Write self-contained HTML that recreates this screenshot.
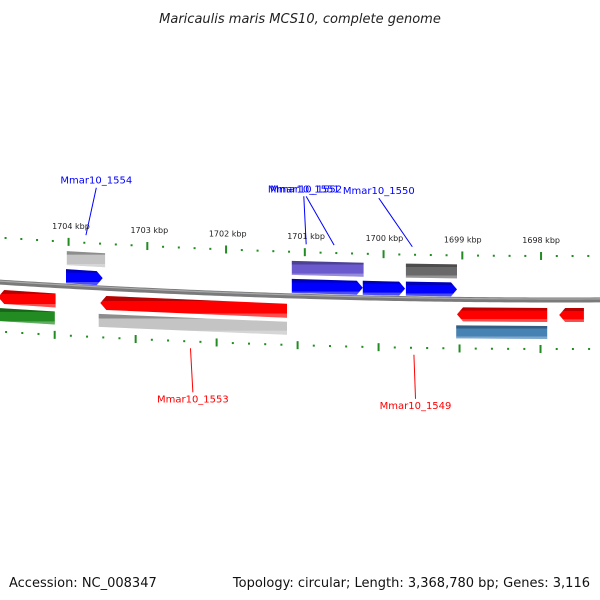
<!DOCTYPE html>
<html><head><meta charset="utf-8"><style>
body{margin:0;background:#fff}
svg{display:block;font-family:"DejaVu Sans","Liberation Sans",sans-serif}
</style></head><body>
<svg id="map" width="600" height="600" viewBox="0 0 600 600" xmlns="http://www.w3.org/2000/svg">
<defs>
<linearGradient id="gshade" x1="0" y1="0" x2="0" y2="1">
<stop offset="0" stop-color="#000" stop-opacity="0.28"/>
<stop offset="0.22" stop-color="#000" stop-opacity="0.28"/>
<stop offset="0.23" stop-color="#000" stop-opacity="0"/>
<stop offset="0.8" stop-color="#fff" stop-opacity="0"/>
<stop offset="0.81" stop-color="#fff" stop-opacity="0.3"/>
<stop offset="1" stop-color="#fff" stop-opacity="0.3"/>
</linearGradient>
</defs>
<text x="300" y="23" text-anchor="middle" font-size="13" font-style="italic" fill="#222">Maricaulis maris MCS10, complete genome</text>
<text x="9" y="587" font-size="13" fill="#111">Accession: NC_008347</text>
<text x="590" y="587" text-anchor="end" font-size="13" fill="#111">Topology: circular; Length: 3,368,780 bp; Genes: 3,116</text>
<g id="layer"></g>
</svg>
<script>
// data
const geneNames = ["left-red","left-green","gene-grey-1","Mmar10_1554","Mmar10_1553","gene-grey-2","gene-purple","Mmar10_1552","Mmar10_1551","Mmar10_1550","gene-grey-3","Mmar10_1549","gene-steel","gene-red-small"];
const geneStart = [1704.80,1704.78,1703.94,1703.95,1703.52,1703.54,1701.12,1701.12,1700.23,1699.69,1699.69,1699.05,1699.06,1697.77];
const geneEnd   = [1704.08,1704.09,1703.46,1703.49,1701.18,1701.18,1700.22,1700.23,1699.70,1699.05,1699.05,1697.92,1697.92,1697.46];
const geneStrand= [-1,0,0,1,-1,0,0,1,1,1,0,-1,0,-1];
const geneTrack = ["rev","rev2","fwd2","fwd","rev","rev2","fwd2","fwd","fwd","fwd","fwd2","rev","rev2","rev"];
const geneColor = ["#ff0000","#228b22","#c4c4c4","#0000ff","#ff0000","#c4c4c4","#6a5acd","#0000ff","#0000ff","#0000ff","#696969","#ff0000","#4682b4","#ff0000"];
const tickMin = 1697.2, tickMax = 1704.8, tickStep = 0.2;
const labelNames = ["Mmar10_1554","Mmar10_1552","Mmar10_1551","Mmar10_1550","Mmar10_1553","Mmar10_1549"];
const labelPos   = [1703.57,1700.94,1700.97,1700.03,1702.36,1699.57];
const labelAnchor= [1703.70,1700.59,1700.94,1699.61,1702.39,1699.59];
const labelSide  = [-1,-1,-1,-1,1,1];
const labelColor = ["#0000ff","#0000ff","#0000ff","#0000ff","#ff0000","#ff0000"];

// axis functions
function xOf(k){return 62+(1704-k)*79.8;}
function sag(x){return 5.7e-5*(x-560)*(x-560);}
function yOf(x,off){return 300+off-sag(x);}
function xr(x,off){return x+(x-560)*0.00015*off*2;} // slight radial spread
const trackOff={fwd:[-17,-3],fwd2:[-35,-21],rev:[8,22],rev2:[26,39]};
const NS="http://www.w3.org/2000/svg";
const layer=document.getElementById('layer');
function mk(t,a){const e=document.createElementNS(NS,t);for(const k in a)e.setAttribute(k,a[k]);layer.appendChild(e);return e;}

// backbone
let bb="";for(let x=-5;x<=605;x+=5){bb+=(x===-5?"M":"L")+x+","+yOf(x,0).toFixed(2);}
const b1=mk('path',{d:bb,stroke:'#7a7a7a','stroke-width':5,fill:'none'});


const b2=mk('path',{d:bb,stroke:'#aaa','stroke-width':1.2,fill:'none',transform:'translate(0,-1)'});



// ticks
const nT=Math.round((tickMax-tickMin)/tickStep);
for(let i=0;i<=nT;i++){
  const k=tickMin+i*tickStep;const major=Math.abs(k-Math.round(k))<1e-6;
  [-44,49].forEach(off=>{
    const x0=xOf(k);const x=xr(x0,off);const y=yOf(x0,off);
    const t=mk('rect',{x:x-1,y:major?y-4:y-1,width:2,height:major?8:2,fill:'#228b22'});
    
    
  });
  if(major){
    const x0=xOf(k);const tx=mk('text',{x:xr(x0,-60),y:yOf(x0,-60)+3,'text-anchor':'middle','font-size':8,fill:'#222'});
    tx.textContent=Math.round(k)+" kbp";
    
    
  }
}

// genes
for(let i=0;i<geneNames.length;i++){
  const [o1,o2]=trackOff[geneTrack[i]];
  let xa=xOf(geneStart[i]),xb=xOf(geneEnd[i]);
  const h=o2-o1, tip=6;
  let pts;
  const ya1=yOf(xa,o1),ya2=yOf(xa,o2),yb1=yOf(xb,o1),yb2=yOf(xb,o2);
  if(geneStrand[i]===1){
    pts=[[xa,ya1],[xb-tip,yb1],[xb,(yb1+yb2)/2],[xb-tip,yb2],[xa,ya2]];
  }else if(geneStrand[i]===-1){
    pts=[[xa+tip,ya1],[xb,yb1],[xb,yb2],[xa+tip,ya2],[xa,(ya1+ya2)/2]];
  }else{
    pts=[[xa,ya1],[xb,yb1],[xb,yb2],[xa,ya2]];
  }
  const ps=pts.map(p=>p[0].toFixed(1)+","+p[1].toFixed(1)).join(" ");
  const g=mk('polygon',{points:ps,fill:geneColor[i]});
  
  
  const s=mk('polygon',{points:ps,fill:'url(#gshade)'});
  
  
}

// labels
for(let i=0;i<labelNames.length;i++){
  const xa=xOf(labelAnchor[i]),xl=xOf(labelPos[i]);
  let y1,y2,ty;
  if(labelSide[i]<0){y1=yOf(xa,-52);y2=yOf(xl,-52)-48;ty=y2-4;}
  else{y1=yOf(xa,56);y2=yOf(xl,56)+44;ty=y2+10;}
  const ln=mk('line',{x1:xa,y1:y1,x2:xl,y2:y2,stroke:labelColor[i],'stroke-width':1});
  
  
  const t=mk('text',{x:xl,y:ty,'text-anchor':'middle','font-size':10,fill:labelColor[i]});
  t.textContent=labelNames[i];
  
  
}
</script>
</body></html>
